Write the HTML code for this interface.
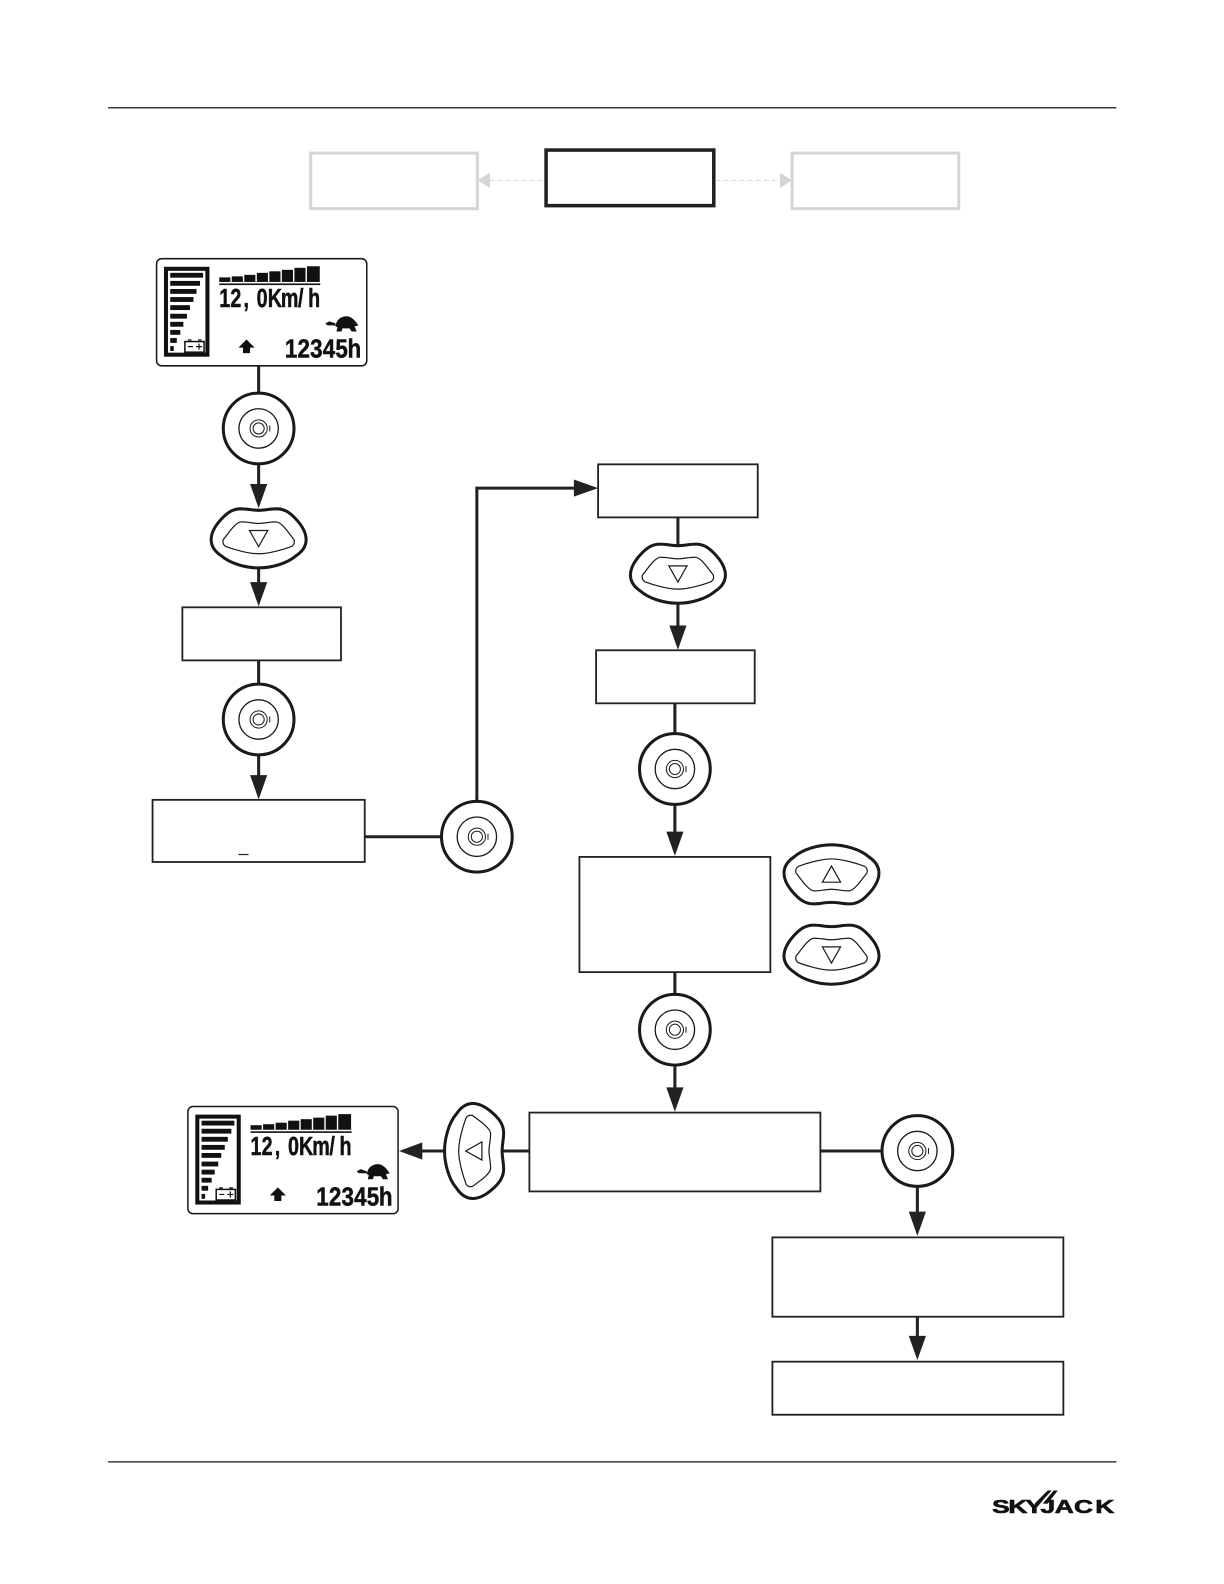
<!DOCTYPE html>
<html><head><meta charset="utf-8"><style>
html,body{margin:0;padding:0;background:#fff}
svg{display:block}
text{font-family:"Liberation Sans",sans-serif;fill:#111}
</style></head><body>
<svg width="1224" height="1584" viewBox="0 0 1211.5 1567.5" preserveAspectRatio="none" xmlns="http://www.w3.org/2000/svg">
<defs>
<g id="rb"><circle r="35" fill="#fff" stroke="#1a1a1a" stroke-width="3"/><circle r="19.500" fill="none" stroke="#1a1a1a" stroke-width="1.300"/><circle r="8.500" fill="none" stroke="#1a1a1a" stroke-width="1"/><circle r="5.500" fill="none" stroke="#1a1a1a" stroke-width="1"/><path d="M11 -3V3" stroke="#1a1a1a" stroke-width="1"/></g>
<g id="pb"><path d="M0 -28C7 -28 11 -29.500 18 -29.500C27 -29.500 33 -24 39 -17C44 -11 47 -5 47 1C47 8 43 13 37 17C28 25 12 29 0 29C-12 29 -28 25 -37 17C-43 13 -47 8 -47 1C-47 -5 -44 -11 -39 -17C-33 -24 -27 -29.500 -18 -29.500C-11 -29.500 -7 -28 0 -28Z" fill="#fff" stroke="#1a1a1a" stroke-width="3"/>
<path d="M0 -15C6 -15 12 -17 18 -16.500C24 -15 30 -5 35 1C36 4 35 6 33 7.600C24 11 10 15 0 15C-10 15 -24 11 -33 7.600C-35 6 -36 4 -35 1C-30 -5 -24 -15 -18 -16.500C-12 -17 -6 -15 0 -15Z" fill="none" stroke="#1a1a1a" stroke-width="1.200"/>
<path d="M-9 -8H9L0 8Z" fill="none" stroke="#1a1a1a" stroke-width="1.200"/></g>
<g id="lcd">
<rect x="155" y="256" width="208" height="106" rx="5" fill="#fff" stroke="#1a1a1a" stroke-width="1.500"/>
<rect x="164.300" y="266" width="41" height="85" fill="none" stroke="#111" stroke-width="4"/>
<g fill="#111"><rect x="168.500" y="270" width="32.500" height="4.800"/><rect x="168.500" y="278" width="29.500" height="4.800"/><rect x="168.500" y="286" width="26" height="4.800"/><rect x="168.500" y="294" width="23" height="4.800"/><rect x="168.500" y="302" width="19.500" height="4.800"/><rect x="168.500" y="310.500" width="16.500" height="4.800"/><rect x="168.500" y="318.500" width="13" height="4.800"/><rect x="168.500" y="326.500" width="10" height="4.800"/><rect x="168.500" y="334.500" width="6.500" height="4.800"/><rect x="168.500" y="342.500" width="3.500" height="4.800"/>
<rect x="217" y="274.500" width="11" height="4.500"/><rect x="229.400" y="273.500" width="11" height="5.500"/><rect x="241.800" y="272" width="11" height="7"/><rect x="254.200" y="270" width="11" height="9"/><rect x="266.600" y="268.500" width="11" height="10.500"/><rect x="279" y="267" width="11" height="12"/><rect x="291.400" y="265" width="11" height="14"/><rect x="303.800" y="263.500" width="12.700" height="15.500"/><rect x="217" y="280.500" width="100" height="1.600"/></g>
<rect x="183" y="338" width="19" height="10.500" fill="none" stroke="#111" stroke-width="1.500"/>
<path d="M186 336.500h3.500M196 336.500h3.500M186 343h5M194 343h6M197 340v6" stroke="#111" stroke-width="1.200" fill="none"/>
<text transform="translate(0 304) scale(.75 1)" x="289.300 304 321.300 338.700 353.300 370.700 393.300 406.700" font-size="26" font-weight="700" style="stroke:#111;stroke-width:.5">12,0Km/h</text>
<path d="M332 323C333 316 338 313 343 313C348 313 352 318 354 321L355 322L351 323L353 328H348L346 325H339L338 328H333L334 324L331 322H324L322 320L326 318L329 319L332 320Z" fill="#111"/>
<path d="M244 336l8 8h-4.500v5.500h-7V344H236z" fill="#111"/>
<text transform="translate(0 354) scale(.85 1)" x="331.800 346.500 361.200 375.900 390.600 404.700" font-size="26" font-weight="700" style="stroke:#111;stroke-width:.5">12345h</text>
</g>
</defs>

<!-- page rules -->
<rect x="107" y="106" width="998" height="1.300" fill="#222"/>
<rect x="107" y="1446" width="998" height="1.300" fill="#222"/>

<!-- header boxes -->
<rect x="307.500" y="151.500" width="165" height="55" fill="#fff" stroke="#d5d5d5" stroke-width="3"/>
<rect x="784" y="151.500" width="165" height="55" fill="#fff" stroke="#d5d5d5" stroke-width="3"/>
<rect x="540.500" y="148.500" width="166" height="55" fill="#fff" stroke="#222" stroke-width="3.500"/>
<path d="M484 178.500H539M708 178.500H772" stroke="#d5d5d5" stroke-width="1" stroke-dasharray="5 3"/>
<path d="M473 178.500l12-7.500v15zM784 178.500l-12-7.500v15z" fill="#d5d5d5"/>

<!-- connectors -->
<g stroke="#222" stroke-width="3" fill="none">
<path d="M256 362V388M256 459V485M256 560V584M256 653V677M256 746V772"/>
<path d="M361 828H437"/>
<path d="M472 792V483H570"/>
<path d="M671 512V540M671 597V625M668 696V726M668 796V828M668 962V984M668 1054V1082"/>
<path d="M498 1139H524M812 1139H873"/>
<path d="M417 1139H441"/>
<path d="M908 1175V1204M908 1303V1327"/>
</g>
<g fill="#222">
<path d="M256 503l-8.500-24h17z"/>
<path d="M256 600l-8.500-24h17z"/>
<path d="M256 791l-8.500-24h17z"/>
<path d="M592 483l-24-8.500v17z"/>
<path d="M671 643l-8.500-24h17z"/>
<path d="M668 847l-8.500-24h17z"/>
<path d="M668 1100l-8.500-24h17z"/>
<path d="M395 1139l23-8.500v17z"/>
<path d="M908 1223l-8.500-24h17z"/>
<path d="M908 1346l-8.500-24h17z"/>
</g>

<!-- boxes -->
<g fill="#fff" stroke="#222" stroke-width="1.800">
<rect x="180.500" y="601" width="157" height="52.500"/>
<rect x="151" y="791.500" width="210" height="61.500"/>
<rect x="592" y="459.500" width="158" height="52.500"/>
<rect x="590" y="643.500" width="157" height="52.500"/>
<rect x="573.500" y="848" width="189" height="114"/>
<rect x="524" y="1101" width="288" height="78"/>
<rect x="764.500" y="1224.500" width="288" height="78.500"/>
<rect x="764.500" y="1347.500" width="288" height="52.500"/>
</g>
<rect x="236" y="845" width="10" height="1.200" fill="#222"/>

<!-- displays -->
<use href="#lcd"/>
<use href="#lcd" transform="translate(31 839)"/>

<!-- round buttons -->
<use href="#rb" x="256" y="424"/>
<use href="#rb" x="256" y="712"/>
<use href="#rb" x="472" y="828"/>
<use href="#rb" x="668" y="761"/>
<use href="#rb" x="668" y="1019"/>
<use href="#rb" x="908" y="1139"/>

<!-- pebble buttons -->
<use href="#pb" transform="translate(256 533)"/>
<use href="#pb" transform="translate(671 568)"/>
<use href="#pb" transform="translate(823 865) rotate(180)"/>
<use href="#pb" transform="translate(823 945)"/>
<use href="#pb" transform="translate(469 1139) rotate(90)"/>

<!-- logo -->
<text transform="translate(0 1497) scale(1.45 1)" x="677.200 688.300 700 710.300 720 733.100 747.600" font-size="18" font-weight="700" style="stroke:#111;stroke-width:.6">SKYJACK</text>
<path d="M1024 1488L1037 1475H1041L1029 1488ZM1032 1488L1043 1475H1047L1037 1488Z" fill="#111"/>
</svg>
</body></html>
